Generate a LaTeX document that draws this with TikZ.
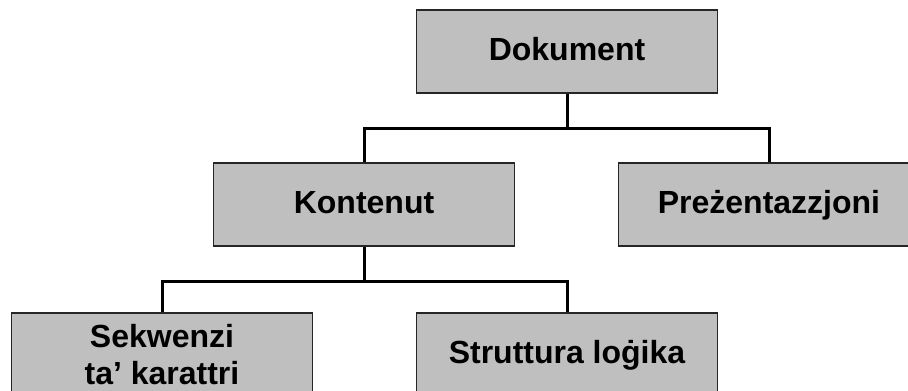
\documentclass[tikz,border=0pt]{standalone}
\usepackage{fontspec}
\setmainfont{Liberation Sans}
\begin{document}
\begin{tikzpicture}[x=1pt,y=-1pt,
	box/.style={draw=black!85,line width=1.6pt,fill=black!25,minimum width=301pt,minimum height=83pt,align=center,font=\bfseries\fontsize{32}{37}\selectfont},
	oneline/.style={box,text height=25pt,text depth=7pt},
	link/.style={line width=3pt}]
			\useasboundingbox (0,0) rectangle (908,391);
			% Dokument
			\node[oneline] (dok) at (567,51.5) {Dokument};
			% Kontenut u Prezentazzjoni
			\node[oneline] (kon) at (364,204.5) {Kontenut};
			\node[oneline] (prez) at (769,204.5) {Preżentazzjoni};
			% Sekwenzi u Struttura
			\node[box] (sek) at (162,354.5) {Sekwenzi\\ta’ karattri};
			\node[oneline] (strut) at (567,354.5) {Struttura loġika};
			% links
			\draw[link] (dok.south) -- ++(0,35) coordinate (j1);
			\draw[link] (kon.north) |- (j1) -| (prez.north);
			\draw[link] (kon.south) -- ++(0,35) coordinate (j2);
			\draw[link] (sek.north) |- (j2) -| (strut.north);
		\end{tikzpicture}
\end{document}
